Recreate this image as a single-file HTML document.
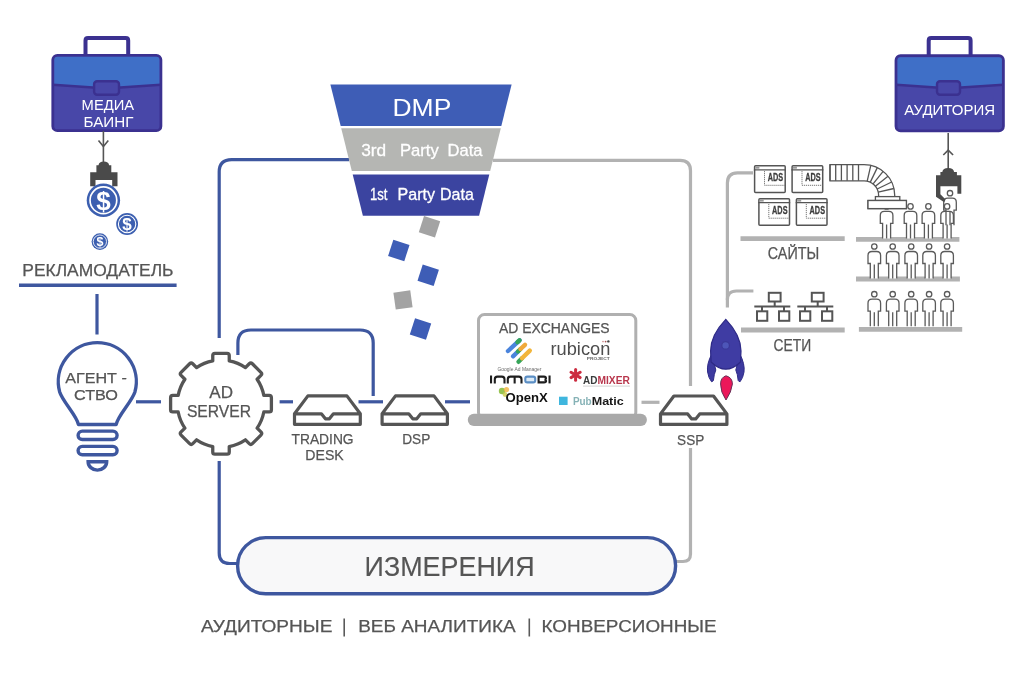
<!DOCTYPE html>
<html><head><meta charset="utf-8"><style>
html,body{margin:0;padding:0;background:#ffffff;}
svg{display:block;font-family:"Liberation Sans",sans-serif;will-change:transform;}
</style></head><body>
<svg width="1024" height="683" viewBox="0 0 1024 683">
<rect width="1024" height="683" fill="#ffffff"/>
<path d="M219.2,338 L219.2,172 Q219.2,159.6 231.6,159.6 L349,159.6" fill="none" stroke="#3e579f" stroke-width="3.2"/>
<path d="M219.2,461 L219.2,553 Q219.2,563.5 229.7,563.5 L240,563.5" fill="none" stroke="#3e579f" stroke-width="3.2"/>
<path d="M237.9,355 L237.9,343 Q237.9,330 250.9,330 L360,330 Q373.2,330 373.2,343 L373.2,396" fill="none" stroke="#3e579f" stroke-width="3.2"/>
<line x1="136" y1="401.8" x2="161" y2="401.8" stroke="#3e579f" stroke-width="3.2"/>
<line x1="279.6" y1="401.8" x2="293" y2="401.8" stroke="#3e579f" stroke-width="3.2"/>
<line x1="358.5" y1="401.8" x2="383" y2="401.8" stroke="#3e579f" stroke-width="3.2"/>
<line x1="445" y1="401.8" x2="470" y2="401.8" stroke="#3e579f" stroke-width="3.2"/>
<line x1="97" y1="294" x2="97" y2="334.5" stroke="#3e579f" stroke-width="3.2"/>
<line x1="19" y1="285.2" x2="176.6" y2="285.2" stroke="#3e579f" stroke-width="3.4"/>
<path d="M493,160.3 L680,160.3 Q690.5,160.3 690.5,170.8 L690.5,386" fill="none" stroke="#b2b2b2" stroke-width="3.2"/>
<path d="M690.5,448 L690.5,554 Q690.5,561.5 683,561.5 L675,561.5" fill="none" stroke="#b2b2b2" stroke-width="3.2"/>
<line x1="641.5" y1="402.3" x2="659.5" y2="402.3" stroke="#b2b2b2" stroke-width="3.2"/>
<path d="M727.4,307.6 L727.4,183 Q727.4,172.8 737.6,172.8 L753,172.8" fill="none" stroke="#b2b2b2" stroke-width="3.2"/>
<path d="M727.4,300 Q727.4,291 736.4,291 L753.4,291" fill="none" stroke="#b2b2b2" stroke-width="3.2"/>
<path d="M85.5,55.8 L85.5,40.5 Q85.5,38.1 88.0,38.1 L125.69999999999999,38.1 Q128.2,38.1 128.2,40.5 L128.2,55.8" fill="none" stroke="#3b3190" stroke-width="4"/>
<rect x="52.8" y="55.3" width="108.10000000000001" height="75.39999999999999" rx="4.5" fill="#4847a8" stroke="#3b3190" stroke-width="2.8"/>
<path d="M54.3,59.8 Q54.3,56.8 57.3,56.8 L156.4,56.8 Q159.4,56.8 159.4,59.8 L159.4,84 L120.2,88 L92.9,88 L54.3,84 Z" fill="#3f6fc7"/>
<path d="M52.8,84.8 L92.9,87.5 L120.2,87.5 L160.9,84.8" fill="none" stroke="#3b3190" stroke-width="2.4"/>
<rect x="94.10000000000001" y="81.2" width="24.9" height="13.6" rx="3" fill="#4847a8" stroke="#3b3190" stroke-width="2.4"/>
<path d="M928.7,56.2 L928.7,40.5 Q928.7,38.1 931.2,38.1 L968.1,38.1 Q970.6,38.1 970.6,40.5 L970.6,56.2" fill="none" stroke="#3b3190" stroke-width="4"/>
<rect x="896.0" y="55.7" width="107.39999999999998" height="75.10000000000001" rx="4.5" fill="#4847a8" stroke="#3b3190" stroke-width="2.8"/>
<path d="M897.5,60.2 Q897.5,57.2 900.5,57.2 L998.9,57.2 Q1001.9,57.2 1001.9,60.2 L1001.9,84 L961.2,88 L935.8,88 L897.5,84 Z" fill="#3f6fc7"/>
<path d="M896.0,84.8 L935.8,87.5 L961.2,87.5 L1003.4,84.8" fill="none" stroke="#3b3190" stroke-width="2.4"/>
<rect x="937.0" y="81.2" width="23.000000000000092" height="13.6" rx="3" fill="#4847a8" stroke="#3b3190" stroke-width="2.4"/>
<text x="81.6" y="109.7" font-size="14.5" fill="#ffffff" font-weight="normal" textLength="52.6" lengthAdjust="spacingAndGlyphs" >МЕДИА</text>
<text x="83.5" y="126.7" font-size="14.3" fill="#ffffff" font-weight="normal" textLength="49.9" lengthAdjust="spacingAndGlyphs" >БАИНГ</text>
<text x="904.2" y="115.4" font-size="14.3" fill="#ffffff" font-weight="normal" textLength="91.0" lengthAdjust="spacingAndGlyphs" >АУДИТОРИЯ</text>
<line x1="103.4" y1="131" x2="103.4" y2="163" stroke="#555555" stroke-width="1.6"/>
<path d="M98.5,140.5 L103.4,146.5 L108.3,140.5" fill="none" stroke="#555555" stroke-width="1.6"/>
<path d="M98.5,165.2 Q99,161.6 103.8,161.6 Q108.6,161.6 109.1,165.2 L111.3,165.2 L111.3,172.2 L117.5,172.2 L117.5,186.3 L112.2,186.3 L112.2,180.1 L95.5,180.1 L95.5,186.3 L90.2,186.3 L90.2,172.2 L96.4,172.2 L96.4,165.2 Z" fill="#4a4a4a"/>
<circle cx="103.4" cy="200.3" r="16.7" fill="#3c5fb0"/>
<circle cx="103.4" cy="200.3" r="13.36" fill="none" stroke="#ffffff" stroke-width="1.67"/>
<text x="103.4" y="209.7" font-size="26" font-weight="bold" fill="#ffffff" text-anchor="middle">$</text>
<circle cx="127.1" cy="224" r="10.9" fill="#3c5fb0"/>
<circle cx="127.1" cy="224" r="8.72" fill="none" stroke="#ffffff" stroke-width="1.09"/>
<text x="127.1" y="230.1" font-size="17" font-weight="bold" fill="#ffffff" text-anchor="middle">$</text>
<circle cx="99.9" cy="241.6" r="8.3" fill="#3c5fb0"/>
<circle cx="99.9" cy="241.6" r="6.640000000000001" fill="none" stroke="#ffffff" stroke-width="0.83"/>
<text x="99.9" y="246.1" font-size="12.5" font-weight="bold" fill="#ffffff" text-anchor="middle">$</text>
<text x="22.3" y="276.4" font-size="15.9" fill="#555555" font-weight="normal" textLength="151.2" lengthAdjust="spacingAndGlyphs" stroke="#555555" stroke-width="0.25" >РЕКЛАМОДАТЕЛЬ</text>
<path d="M78.4,424.5 C77,416 62.65,401.55 59.7,392 A39,39 0 1 1 134.9,392 C131.95,401.55 117.6,416 116.2,424.5 Z" fill="none" stroke="#3e579f" stroke-width="3.4" stroke-linejoin="round"/>
<rect x="78.1" y="431.1" width="39" height="8.4" rx="4.2" fill="none" stroke="#3e579f" stroke-width="3.4"/>
<rect x="78.1" y="446.4" width="39" height="8.4" rx="4.2" fill="none" stroke="#3e579f" stroke-width="3.4"/>
<path d="M88.1,461.7 L106.7,461.7 A9.3,8.4 0 0 1 88.1,461.7 Z" fill="none" stroke="#3e579f" stroke-width="3.4"/>
<text x="65.3" y="382.7" font-size="15.2" fill="#555555" font-weight="normal" textLength="61.5" lengthAdjust="spacingAndGlyphs" stroke="#555555" stroke-width="0.25" >АГЕНТ -</text>
<text x="74.0" y="400.3" font-size="15.2" fill="#555555" font-weight="normal" textLength="44.0" lengthAdjust="spacingAndGlyphs" stroke="#555555" stroke-width="0.25" >СТВО</text>
<path d="M212.75,360.89 L212.75,355.50 Q212.75,353.30 214.95,353.30 L227.05,353.30 Q229.25,353.30 229.25,355.50 L229.25,360.89 A43.6,43.6 0 0 1 245.44,367.59 L249.25,363.78 Q250.80,362.23 252.36,363.78 L260.92,372.34 Q262.47,373.90 260.92,375.45 L257.11,379.26 A43.6,43.6 0 0 1 263.81,395.45 L269.20,395.45 Q271.40,395.45 271.40,397.65 L271.40,409.75 Q271.40,411.95 269.20,411.95 L263.81,411.95 A43.6,43.6 0 0 1 257.11,428.14 L260.92,431.95 Q262.47,433.50 260.92,435.06 L252.36,443.62 Q250.80,445.17 249.25,443.62 L245.44,439.81 A43.6,43.6 0 0 1 229.25,446.51 L229.25,451.90 Q229.25,454.10 227.05,454.10 L214.95,454.10 Q212.75,454.10 212.75,451.90 L212.75,446.51 A43.6,43.6 0 0 1 196.56,439.81 L192.75,443.62 Q191.20,445.17 189.64,443.62 L181.08,435.06 Q179.53,433.50 181.08,431.95 L184.89,428.14 A43.6,43.6 0 0 1 178.19,411.95 L172.80,411.95 Q170.60,411.95 170.60,409.75 L170.60,397.65 Q170.60,395.45 172.80,395.45 L178.19,395.45 A43.6,43.6 0 0 1 184.89,379.26 L181.08,375.45 Q179.53,373.90 181.08,372.34 L189.64,363.78 Q191.20,362.23 192.75,363.78 L196.56,367.59 A43.6,43.6 0 0 1 212.75,360.89 Z" fill="none" stroke="#555555" stroke-width="3.3" stroke-linejoin="round"/>
<text x="209.3" y="398.4" font-size="15.9" fill="#555555" font-weight="normal" textLength="23.7" lengthAdjust="spacingAndGlyphs" stroke="#555555" stroke-width="0.25" >AD</text>
<text x="186.9" y="416.8" font-size="15.9" fill="#555555" font-weight="normal" textLength="64.1" lengthAdjust="spacingAndGlyphs" stroke="#555555" stroke-width="0.25" >SERVER</text>
<path d="M294.5,413.8 L307.9,395.90000000000003 L346.9,395.90000000000003 L360.29999999999995,413.8 L360.29999999999995,424.3 L294.5,424.3 Z M294.5,413.8 L321.4,413.8 L325.4,418.8 L329.4,418.8 L333.4,413.8 L360.29999999999995,413.8" fill="none" stroke="#555555" stroke-width="3.2" stroke-linejoin="round"/>
<path d="M382.1,413.8 L395.5,395.90000000000003 L434.0,395.90000000000003 L447.4,413.8 L447.4,424.3 L382.1,424.3 Z M382.1,413.8 L408.75,413.8 L412.75,418.8 L416.75,418.8 L420.75,413.8 L447.4,413.8" fill="none" stroke="#555555" stroke-width="3.2" stroke-linejoin="round"/>
<path d="M660.5,413.9 L673.9,396.0 L713.5,396.0 L726.9,413.9 L726.9,424.4 L660.5,424.4 Z M660.5,413.9 L687.6999999999999,413.9 L691.6999999999999,418.9 L695.6999999999999,418.9 L699.6999999999999,413.9 L726.9,413.9" fill="none" stroke="#555555" stroke-width="3.2" stroke-linejoin="round"/>
<text x="291.5" y="444.2" font-size="15.0" fill="#555555" font-weight="normal" textLength="62.1" lengthAdjust="spacingAndGlyphs" stroke="#555555" stroke-width="0.25" >TRADING</text>
<text x="305.3" y="460.0" font-size="15.0" fill="#555555" font-weight="normal" textLength="38.4" lengthAdjust="spacingAndGlyphs" stroke="#555555" stroke-width="0.25" >DESK</text>
<text x="402.2" y="444.4" font-size="15.0" fill="#555555" font-weight="normal" textLength="28.1" lengthAdjust="spacingAndGlyphs" stroke="#555555" stroke-width="0.25" >DSP</text>
<text x="677.1" y="444.6" font-size="15.0" fill="#555555" font-weight="normal" textLength="27.1" lengthAdjust="spacingAndGlyphs" stroke="#555555" stroke-width="0.25" >SSP</text>
<path d="M330.4,84.5 L511.6,84.5 L501.3,126 L340.7,126 Z" fill="#3e5db6"/>
<path d="M341.2,128.2 L500.8,128.2 L490.2,171 L351.8,171 Z" fill="#b5b6b3"/>
<path d="M352.7,174.5 L489.3,174.5 L479.1,215.8 L362.9,215.8 Z" fill="#3b44a0"/>
<text x="392.5" y="116.2" font-size="24.0" fill="#ffffff" font-weight="normal" textLength="58.8" lengthAdjust="spacingAndGlyphs" >DMP</text>
<text x="361.2" y="156.3" font-size="16.3" fill="#ffffff" font-weight="normal" textLength="25.0" lengthAdjust="spacingAndGlyphs" stroke="#ffffff" stroke-width="0.3" >3rd</text>
<text x="400.0" y="156.3" font-size="16.3" fill="#ffffff" font-weight="normal" textLength="38.8" lengthAdjust="spacingAndGlyphs" stroke="#ffffff" stroke-width="0.3" >Party</text>
<text x="447.5" y="156.3" font-size="16.3" fill="#ffffff" font-weight="normal" textLength="35.0" lengthAdjust="spacingAndGlyphs" stroke="#ffffff" stroke-width="0.3" >Data</text>
<text x="370.0" y="200.1" font-size="16.3" fill="#ffffff" font-weight="normal" textLength="17.5" lengthAdjust="spacingAndGlyphs" stroke="#ffffff" stroke-width="0.3" >1st</text>
<text x="397.5" y="200.1" font-size="16.3" fill="#ffffff" font-weight="normal" textLength="37.5" lengthAdjust="spacingAndGlyphs" stroke="#ffffff" stroke-width="0.3" >Party</text>
<text x="440.0" y="200.1" font-size="16.3" fill="#ffffff" font-weight="normal" textLength="33.8" lengthAdjust="spacingAndGlyphs" stroke="#ffffff" stroke-width="0.3" >Data</text>
<rect x="421.0" y="218.3" width="17" height="17" fill="#a3a3a3" transform="rotate(18 429.5 226.8)"/>
<rect x="390.3" y="242.0" width="17" height="17" fill="#3e5db6" transform="rotate(18 398.8 250.5)"/>
<rect x="419.7" y="266.8" width="17" height="17" fill="#3e5db6" transform="rotate(18 428.2 275.3)"/>
<rect x="394.5" y="291.4" width="17" height="17" fill="#a3a3a3" transform="rotate(-8 403 299.9)"/>
<rect x="412.0" y="320.5" width="17" height="17" fill="#3e5db6" transform="rotate(18 420.5 329)"/>
<rect x="478.5" y="314.5" width="157.3" height="104" rx="6" fill="#ffffff" stroke="#b0b0b0" stroke-width="3"/>
<rect x="467.8" y="413.7" width="179.1" height="12.3" rx="6.1" fill="#a9a9a9"/>
<text x="499.0" y="332.8" font-size="14.3" fill="#555555" font-weight="normal" textLength="110.6" lengthAdjust="spacingAndGlyphs" stroke="#555555" stroke-width="0.25" >AD EXCHANGES</text>
<g stroke-linecap="round" stroke-width="4.4" fill="none"><line x1="508" y1="351" x2="519.5" y2="340.3" stroke="#4a84dc"/><line x1="517.5" y1="342.2" x2="519.5" y2="340.3" stroke="#36a55a"/><line x1="513" y1="356.3" x2="518" y2="351.5" stroke="#4a84dc"/><line x1="518" y1="351.5" x2="520.5" y2="349" stroke="#36a55a"/><line x1="520.5" y1="349" x2="525" y2="344.8" stroke="#f0a93a"/><line x1="518.5" y1="361.8" x2="522" y2="358.3" stroke="#36a55a"/><line x1="522" y1="358.3" x2="529.8" y2="350.6" stroke="#f2b53a"/></g>
<text x="497.5" y="370.8" font-size="4.6" fill="#6a6a6a" textLength="44" lengthAdjust="spacingAndGlyphs">Google Ad Manager</text>
<text x="550.5" y="354.5" font-size="18.2" fill="#4d4d4d" font-weight="normal" textLength="59.8" lengthAdjust="spacingAndGlyphs" >rubicon</text>
<circle cx="603" cy="341.6" r="0.8" fill="#c88"/><circle cx="605.6" cy="341.6" r="0.9" fill="#a55"/><circle cx="608.4" cy="341.4" r="1.2" fill="#444"/>
<text x="586.7" y="359.6" font-size="3.2" fill="#666" textLength="23" lengthAdjust="spacingAndGlyphs" font-weight="bold">PROJECT</text>
<g fill="none" stroke="#1e1e1e" stroke-width="2.1"><line x1="491.05" y1="375.5" x2="491.05" y2="383.4"/><path d="M494.8,383.4 V379.2 Q494.8,376.6 497.4,376.6 H501.9 Q504.5,376.6 504.5,379.2 V383.4"/><path d="M507.8,383.4 V379.2 Q507.8,376.6 510.4,376.6 H518.9 Q521.5,376.6 521.5,379.2 V383.4 M514.65,376.6 V383.4"/><rect x="525.3" y="376.6" width="9.9" height="5.8" rx="2" stroke="#5b8ec4" fill="#dcebf7"/><path d="M538.6,376.6 H544 Q546,376.6 546,378.5 Q546,379.6 544.5,379.6 Q546.1,379.8 546.1,381 Q546.1,382.4 544,382.4 H538.6 Z"/><line x1="549.55" y1="375.5" x2="549.55" y2="383.4"/></g>
<g stroke="#cc2c40" stroke-width="3" stroke-linecap="round"><line x1="575.6" y1="369.6" x2="575.6" y2="380.2"/><line x1="571" y1="372.2" x2="580.2" y2="377.6"/><line x1="571" y1="377.6" x2="580.2" y2="372.2"/></g>
<text x="583.1" y="384.0" font-size="11.8" fill="#3a3d3d" font-weight="bold" textLength="14.4" lengthAdjust="spacingAndGlyphs" >AD</text>
<text x="597.5" y="384.0" font-size="11.8" fill="#b8364c" font-weight="bold" textLength="32.4" lengthAdjust="spacingAndGlyphs" >MIXER</text>
<line x1="583" y1="386.2" x2="630" y2="386.2" stroke="#dcdcdc" stroke-width="1.2"/>
<circle cx="502" cy="391" r="3.2" fill="#8cbd3f" opacity="0.9"/><circle cx="506.5" cy="389.5" r="2.6" fill="#f2b84b" opacity="0.85"/><circle cx="505" cy="394.5" r="2.4" fill="#c9c94a" opacity="0.8"/>
<text x="505.5" y="401.6" font-size="12.4" fill="#111111" font-weight="bold" textLength="42.3" lengthAdjust="spacingAndGlyphs" >OpenX</text>
<rect x="559" y="396.7" width="8.6" height="8.3" fill="#3fb6de"/>
<text x="572.9" y="404.6" font-size="11.7" fill="#86b2b6" font-weight="bold" textLength="18.8" lengthAdjust="spacingAndGlyphs" >Pub</text>
<text x="591.7" y="404.6" font-size="11.7" fill="#1a1a1a" font-weight="bold" textLength="32.1" lengthAdjust="spacingAndGlyphs" >Matic</text>
<rect x="754.6" y="165.79999999999998" width="30.6" height="26.6" rx="1" fill="#ffffff" stroke="#555555" stroke-width="1.5"/>
<line x1="753.9" y1="169.79999999999998" x2="785.9" y2="169.79999999999998" stroke="#555555" stroke-width="1.2"/>
<rect x="755.4" y="166.7" width="4" height="2" fill="#999"/>
<path d="M764.5,171.1 L764.5,185.29999999999998 L784.9,185.29999999999998" fill="none" stroke="#777" stroke-width="1" stroke-dasharray="1.2,0.8"/>
<text x="767.8" y="181.1" font-size="11.3" font-weight="bold" fill="#3d3d3d" stroke="#3d3d3d" stroke-width="0.3" textLength="15.4" lengthAdjust="spacingAndGlyphs">ADS</text>
<rect x="792.1" y="165.79999999999998" width="30.6" height="26.6" rx="1" fill="#ffffff" stroke="#555555" stroke-width="1.5"/>
<line x1="791.4" y1="169.79999999999998" x2="823.4" y2="169.79999999999998" stroke="#555555" stroke-width="1.2"/>
<rect x="792.9" y="166.7" width="4" height="2" fill="#999"/>
<path d="M802.0,171.1 L802.0,185.29999999999998 L822.4,185.29999999999998" fill="none" stroke="#777" stroke-width="1" stroke-dasharray="1.2,0.8"/>
<text x="805.3" y="181.1" font-size="11.3" font-weight="bold" fill="#3d3d3d" stroke="#3d3d3d" stroke-width="0.3" textLength="15.4" lengthAdjust="spacingAndGlyphs">ADS</text>
<rect x="758.9000000000001" y="198.7" width="30.6" height="26.6" rx="1" fill="#ffffff" stroke="#555555" stroke-width="1.5"/>
<line x1="758.2" y1="202.7" x2="790.2" y2="202.7" stroke="#555555" stroke-width="1.2"/>
<rect x="759.7" y="199.6" width="4" height="2" fill="#999"/>
<path d="M768.8000000000001,204 L768.8000000000001,218.2 L789.2,218.2" fill="none" stroke="#777" stroke-width="1" stroke-dasharray="1.2,0.8"/>
<text x="772.1" y="214" font-size="11.3" font-weight="bold" fill="#3d3d3d" stroke="#3d3d3d" stroke-width="0.3" textLength="15.4" lengthAdjust="spacingAndGlyphs">ADS</text>
<rect x="796.4000000000001" y="198.7" width="30.6" height="26.6" rx="1" fill="#ffffff" stroke="#555555" stroke-width="1.5"/>
<line x1="795.7" y1="202.7" x2="827.7" y2="202.7" stroke="#555555" stroke-width="1.2"/>
<rect x="797.2" y="199.6" width="4" height="2" fill="#999"/>
<path d="M806.3000000000001,204 L806.3000000000001,218.2 L826.7,218.2" fill="none" stroke="#777" stroke-width="1" stroke-dasharray="1.2,0.8"/>
<text x="809.6" y="214" font-size="11.3" font-weight="bold" fill="#3d3d3d" stroke="#3d3d3d" stroke-width="0.3" textLength="15.4" lengthAdjust="spacingAndGlyphs">ADS</text>
<line x1="740.5" y1="238.6" x2="844.7" y2="238.6" stroke="#b2b2b2" stroke-width="4.8"/>
<line x1="856" y1="239.3" x2="959.4" y2="239.3" stroke="#b2b2b2" stroke-width="4.8"/>
<line x1="856" y1="279" x2="959.9" y2="279" stroke="#b2b2b2" stroke-width="4.8"/>
<line x1="858.9" y1="329.3" x2="962.2" y2="329.3" stroke="#b2b2b2" stroke-width="4.8"/>
<line x1="741" y1="330" x2="844.7" y2="330" stroke="#b2b2b2" stroke-width="4.8"/>
<text x="767.8" y="259.3" font-size="15.6" fill="#555555" font-weight="normal" textLength="51.4" lengthAdjust="spacingAndGlyphs" stroke="#555555" stroke-width="0.25" >САЙТЫ</text>
<text x="773.6" y="350.7" font-size="15.6" fill="#555555" font-weight="normal" textLength="37.7" lengthAdjust="spacingAndGlyphs" stroke="#555555" stroke-width="0.25" >СЕТИ</text>
<g fill="none" stroke="#555555" stroke-width="2"><rect x="768.8" y="292.8" width="11.8" height="8.7"/><line x1="774.6999999999999" y1="301.5" x2="774.6999999999999" y2="306.4"/><line x1="754.3" y1="306.4" x2="790.3" y2="306.4"/><line x1="762.0" y1="306.4" x2="762.0" y2="311.3"/><line x1="784.0" y1="306.4" x2="784.0" y2="311.3"/><rect x="757.0" y="311.3" width="10.3" height="9.5"/><rect x="779.0" y="311.3" width="10.3" height="9.5"/></g>
<g fill="none" stroke="#555555" stroke-width="2"><rect x="811.8" y="292.8" width="11.8" height="8.7"/><line x1="817.6999999999999" y1="301.5" x2="817.6999999999999" y2="306.4"/><line x1="797.3" y1="306.4" x2="833.3" y2="306.4"/><line x1="805.0" y1="306.4" x2="805.0" y2="311.3"/><line x1="827.0" y1="306.4" x2="827.0" y2="311.3"/><rect x="800.0" y="311.3" width="10.3" height="9.5"/><rect x="822.0" y="311.3" width="10.3" height="9.5"/></g>
<g fill="#ffffff" stroke="#555" stroke-width="1.3"><path d="M830,164.6 L864,164.6 A30.7,30.7 0 0 1 894.7,195.3 L894.7,197 L878.6,197 L878.6,195.3 A14.6,14.6 0 0 0 864,180.8 L830,180.8 Z"/><line x1="830.0" y1="164.6" x2="830.0" y2="180.8"/><line x1="835.7" y1="164.6" x2="835.7" y2="180.8"/><line x1="841.4" y1="164.6" x2="841.4" y2="180.8"/><line x1="847.1" y1="164.6" x2="847.1" y2="180.8"/><line x1="852.8" y1="164.6" x2="852.8" y2="180.8"/><line x1="858.5" y1="164.6" x2="858.5" y2="180.8"/><line x1="867.2" y1="181.1" x2="870.8" y2="165.4"/><line x1="870.3" y1="182.1" x2="877.3" y2="167.6"/><line x1="873.1" y1="183.9" x2="883.1" y2="171.3"/><line x1="875.4" y1="186.2" x2="888.0" y2="176.2"/><line x1="877.2" y1="189.0" x2="891.7" y2="182.0"/><line x1="878.2" y1="192.1" x2="893.9" y2="188.5"/><rect x="875.4" y="196.6" width="24.4" height="4"/><rect x="868" y="200.5" width="38.4" height="8.1"/></g>
<path d="M882.6,238.4 L882.6,223.4 L880.3000000000001,223.4 L880.3000000000001,215.4 Q880.3000000000001,211.4 884.3000000000001,211.4 L888.9,211.4 Q892.9,211.4 892.9,215.4 L892.9,223.4 L890.6,223.4 L890.6,238.4 M886.6,224.4 L886.6,238.4" fill="#ffffff" stroke="#5a5a5a" stroke-width="1.3"/>
<circle cx="886.6" cy="206.4" r="2.7" fill="#ffffff" stroke="#5a5a5a" stroke-width="1.3"/>
<path d="M906.5,238.4 L906.5,223.4 L904.2,223.4 L904.2,215.4 Q904.2,211.4 908.2,211.4 L912.8,211.4 Q916.8,211.4 916.8,215.4 L916.8,223.4 L914.5,223.4 L914.5,238.4 M910.5,224.4 L910.5,238.4" fill="#ffffff" stroke="#5a5a5a" stroke-width="1.3"/>
<circle cx="910.5" cy="206.4" r="2.7" fill="#ffffff" stroke="#5a5a5a" stroke-width="1.3"/>
<path d="M924.4,238.4 L924.4,223.4 L922.1,223.4 L922.1,215.4 Q922.1,211.4 926.1,211.4 L930.6999999999999,211.4 Q934.6999999999999,211.4 934.6999999999999,215.4 L934.6999999999999,223.4 L932.4,223.4 L932.4,238.4 M928.4,224.4 L928.4,238.4" fill="#ffffff" stroke="#5a5a5a" stroke-width="1.3"/>
<circle cx="928.4" cy="206.4" r="2.7" fill="#ffffff" stroke="#5a5a5a" stroke-width="1.3"/>
<path d="M943.1,238.4 L943.1,223.4 L940.8000000000001,223.4 L940.8000000000001,215.4 Q940.8000000000001,211.4 944.8000000000001,211.4 L949.4,211.4 Q953.4,211.4 953.4,215.4 L953.4,223.4 L951.1,223.4 L951.1,238.4 M947.1,224.4 L947.1,238.4" fill="#ffffff" stroke="#5a5a5a" stroke-width="1.3"/>
<circle cx="947.1" cy="206.4" r="2.7" fill="#ffffff" stroke="#5a5a5a" stroke-width="1.3"/>
<path d="M870.3,278.5 L870.3,263.5 L868.0,263.5 L868.0,255.5 Q868.0,251.5 872.0,251.5 L876.5999999999999,251.5 Q880.5999999999999,251.5 880.5999999999999,255.5 L880.5999999999999,263.5 L878.3,263.5 L878.3,278.5 M874.3,264.5 L874.3,278.5" fill="#ffffff" stroke="#5a5a5a" stroke-width="1.3"/>
<circle cx="874.3" cy="246.5" r="2.7" fill="#ffffff" stroke="#5a5a5a" stroke-width="1.3"/>
<path d="M888.7,278.5 L888.7,263.5 L886.4000000000001,263.5 L886.4000000000001,255.5 Q886.4000000000001,251.5 890.4000000000001,251.5 L895.0,251.5 Q899.0,251.5 899.0,255.5 L899.0,263.5 L896.7,263.5 L896.7,278.5 M892.7,264.5 L892.7,278.5" fill="#ffffff" stroke="#5a5a5a" stroke-width="1.3"/>
<circle cx="892.7" cy="246.5" r="2.7" fill="#ffffff" stroke="#5a5a5a" stroke-width="1.3"/>
<path d="M907.2,278.5 L907.2,263.5 L904.9000000000001,263.5 L904.9000000000001,255.5 Q904.9000000000001,251.5 908.9000000000001,251.5 L913.5,251.5 Q917.5,251.5 917.5,255.5 L917.5,263.5 L915.2,263.5 L915.2,278.5 M911.2,264.5 L911.2,278.5" fill="#ffffff" stroke="#5a5a5a" stroke-width="1.3"/>
<circle cx="911.2" cy="246.5" r="2.7" fill="#ffffff" stroke="#5a5a5a" stroke-width="1.3"/>
<path d="M925.1,278.5 L925.1,263.5 L922.8000000000001,263.5 L922.8000000000001,255.5 Q922.8000000000001,251.5 926.8000000000001,251.5 L931.4,251.5 Q935.4,251.5 935.4,255.5 L935.4,263.5 L933.1,263.5 L933.1,278.5 M929.1,264.5 L929.1,278.5" fill="#ffffff" stroke="#5a5a5a" stroke-width="1.3"/>
<circle cx="929.1" cy="246.5" r="2.7" fill="#ffffff" stroke="#5a5a5a" stroke-width="1.3"/>
<path d="M943.1,278.5 L943.1,263.5 L940.8000000000001,263.5 L940.8000000000001,255.5 Q940.8000000000001,251.5 944.8000000000001,251.5 L949.4,251.5 Q953.4,251.5 953.4,255.5 L953.4,263.5 L951.1,263.5 L951.1,278.5 M947.1,264.5 L947.1,278.5" fill="#ffffff" stroke="#5a5a5a" stroke-width="1.3"/>
<circle cx="947.1" cy="246.5" r="2.7" fill="#ffffff" stroke="#5a5a5a" stroke-width="1.3"/>
<path d="M870.3,326.2 L870.3,311.2 L868.0,311.2 L868.0,303.2 Q868.0,299.2 872.0,299.2 L876.5999999999999,299.2 Q880.5999999999999,299.2 880.5999999999999,303.2 L880.5999999999999,311.2 L878.3,311.2 L878.3,326.2 M874.3,312.2 L874.3,326.2" fill="#ffffff" stroke="#5a5a5a" stroke-width="1.3"/>
<circle cx="874.3" cy="294.2" r="2.7" fill="#ffffff" stroke="#5a5a5a" stroke-width="1.3"/>
<path d="M888.7,326.2 L888.7,311.2 L886.4000000000001,311.2 L886.4000000000001,303.2 Q886.4000000000001,299.2 890.4000000000001,299.2 L895.0,299.2 Q899.0,299.2 899.0,303.2 L899.0,311.2 L896.7,311.2 L896.7,326.2 M892.7,312.2 L892.7,326.2" fill="#ffffff" stroke="#5a5a5a" stroke-width="1.3"/>
<circle cx="892.7" cy="294.2" r="2.7" fill="#ffffff" stroke="#5a5a5a" stroke-width="1.3"/>
<path d="M907.2,326.2 L907.2,311.2 L904.9000000000001,311.2 L904.9000000000001,303.2 Q904.9000000000001,299.2 908.9000000000001,299.2 L913.5,299.2 Q917.5,299.2 917.5,303.2 L917.5,311.2 L915.2,311.2 L915.2,326.2 M911.2,312.2 L911.2,326.2" fill="#ffffff" stroke="#5a5a5a" stroke-width="1.3"/>
<circle cx="911.2" cy="294.2" r="2.7" fill="#ffffff" stroke="#5a5a5a" stroke-width="1.3"/>
<path d="M925.1,326.2 L925.1,311.2 L922.8000000000001,311.2 L922.8000000000001,303.2 Q922.8000000000001,299.2 926.8000000000001,299.2 L931.4,299.2 Q935.4,299.2 935.4,303.2 L935.4,311.2 L933.1,311.2 L933.1,326.2 M929.1,312.2 L929.1,326.2" fill="#ffffff" stroke="#5a5a5a" stroke-width="1.3"/>
<circle cx="929.1" cy="294.2" r="2.7" fill="#ffffff" stroke="#5a5a5a" stroke-width="1.3"/>
<path d="M943.1,326.2 L943.1,311.2 L940.8000000000001,311.2 L940.8000000000001,303.2 Q940.8000000000001,299.2 944.8000000000001,299.2 L949.4,299.2 Q953.4,299.2 953.4,303.2 L953.4,311.2 L951.1,311.2 L951.1,326.2 M947.1,312.2 L947.1,326.2" fill="#ffffff" stroke="#5a5a5a" stroke-width="1.3"/>
<circle cx="947.1" cy="294.2" r="2.7" fill="#ffffff" stroke="#5a5a5a" stroke-width="1.3"/>
<rect x="868" y="200.5" width="38.4" height="8.1" fill="#fff" stroke="#555" stroke-width="1.3"/>
<path d="M946,225.2 L946,210.2 L943.7,210.2 L943.7,202.2 Q943.7,198.2 947.7,198.2 L952.3,198.2 Q956.3,198.2 956.3,202.2 L956.3,210.2 L954,210.2 L954,225.2 M950,211.2 L950,225.2" fill="none" stroke="#5a5a5a" stroke-width="1.3"/>
<circle cx="950" cy="193.2" r="2.7" fill="none" stroke="#5a5a5a" stroke-width="1.3"/>
<line x1="948.2" y1="133" x2="948.2" y2="170" stroke="#555555" stroke-width="1.6"/>
<path d="M943.3,155 L948.2,150.2 L953.1,155" fill="none" stroke="#555555" stroke-width="1.6"/>
<path d="M942.3,172 Q942.8,168 948.2,168 Q953.6,168 954.1,172 L956.9,172 L956.9,175.2 L961.3,175.2 L961.3,193.8 L957.4,193.8 L957.4,186.2 L940.4,186.2 L940.4,194.2 L945.6,199.4 L944.2,202.3 L936,196.8 L936,175.2 L940.4,175.2 L940.4,172 Z" fill="#4a4a4a"/>
<path d="M711.8,354 Q706.5,364 707.6,372 Q708.5,378 711.5,381.7 Q713,381.5 713.4,380.5 Q714,374 715.8,370 Z" fill="#3d3a9f" stroke="#2e2a86" stroke-width="1"/>
<path d="M739.8,354 Q745.1,364 744,372 Q743.1,378 740.1,381.7 Q738.6,381.5 738.2,380.5 Q737.6,374 735.8,370 Z" fill="#3d3a9f" stroke="#2e2a86" stroke-width="1"/>
<path d="M725.8,319.4 C733,327 741,338 741,351 L740.5,362 Q733,369.2 725.8,369.2 Q718.5,369.2 711.1,362 L710.6,351 C710.6,338 718.5,327 725.8,319.4 Z" fill="#3f3ca3" stroke="#2e2a86" stroke-width="1.2"/>
<circle cx="725.6" cy="345.4" r="3.8" fill="#4d56b8" stroke="#3a3898" stroke-width="1.2"/>
<path d="M726,375.8 Q732.4,377.5 732.4,384 Q731.5,392 726,400 Q720.5,392 720.6,384 Q720.6,377.5 726,375.8 Z" fill="#ec175a" stroke="#6a3058" stroke-width="1"/>
<rect x="237.6" y="537.6" width="438" height="56.2" rx="28.1" fill="#f8f8f9" stroke="#3e579f" stroke-width="3.4"/>
<text x="364.6" y="576.1" font-size="27.2" fill="#555555" font-weight="normal" textLength="170.0" lengthAdjust="spacingAndGlyphs" stroke="#555555" stroke-width="0.15" >ИЗМЕРЕНИЯ</text>
<text x="201.0" y="632.0" font-size="17.0" fill="#555555" font-weight="normal" textLength="131.4" lengthAdjust="spacingAndGlyphs" stroke="#555555" stroke-width="0.25" >АУДИТОРНЫЕ</text>
<line x1="344.2" y1="618.5" x2="344.2" y2="636.5" stroke="#5a5a5a" stroke-width="1.6"/>
<text x="358.2" y="632.0" font-size="17.0" fill="#555555" font-weight="normal" textLength="157.4" lengthAdjust="spacingAndGlyphs" stroke="#555555" stroke-width="0.25" >ВЕБ АНАЛИТИКА</text>
<line x1="529.3" y1="618.5" x2="529.3" y2="636.5" stroke="#5a5a5a" stroke-width="1.6"/>
<text x="541.6" y="632.0" font-size="17.0" fill="#555555" font-weight="normal" textLength="175.0" lengthAdjust="spacingAndGlyphs" stroke="#555555" stroke-width="0.25" >КОНВЕРСИОННЫЕ</text>
</svg></body></html>
